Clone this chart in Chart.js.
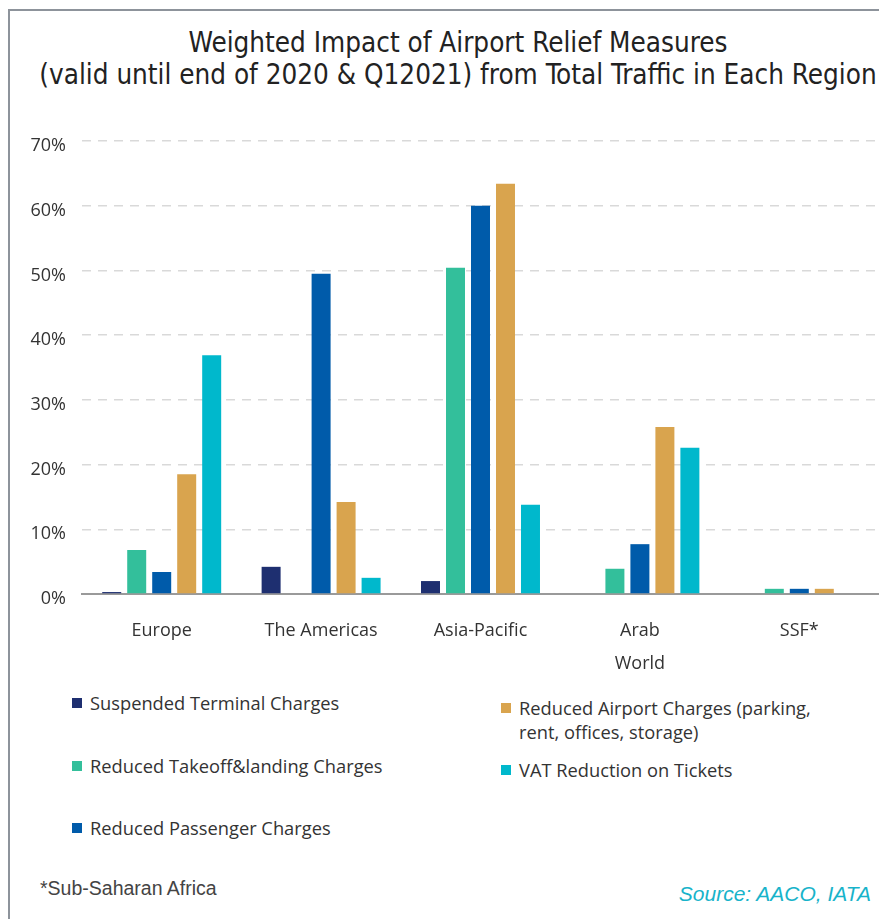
<!DOCTYPE html>
<html>
<head>
<meta charset="utf-8">
<script src="https://cdn.jsdelivr.net/npm/chart.js@4"></script>
<style>
  html, body { margin: 0; padding: 0; background: #fff; }
  body { width: 879px; height: 919px; position: relative; overflow: hidden; }
  #frame { position: absolute; left: 8px; top: 9px; width: 880px; height: 920px;
           border-top: 2px solid #8d939b; border-left: 2px solid #8d939b; }
  #title { position: absolute; left: 20px; width: 876px; top: 27px; text-align: center;
           font-family: "Liberation Sans Narrow", "DejaVu Sans Condensed", sans-serif;
           font-size: 27.6px; line-height: 32px; color: #222; white-space: nowrap; }
  #chartbox { position: absolute; left: 0; top: 0; width: 879px; height: 690px; }
  .leg { position: absolute; font-family: "Open Sans", sans-serif; font-size: 18.3px; color: #333;
         line-height: 24px; }
  .leg .sw { position: absolute; left: -18px; top: 7px; width: 10px; height: 10px; }
  #foot { position: absolute; left: 40px; top: 877px; font-family: "Liberation Sans Narrow", sans-serif;
          font-size: 19.5px; color: #444; }
  #source { position: absolute; right: 8px; top: 882px; font-family: "Liberation Sans Narrow", sans-serif;
            font-style: italic; font-size: 21px; color: #18b3ca; }
</style>
</head>
<body>
<div id="frame"></div>
<div id="title"></div>
<div id="chartbox"><canvas id="c"></canvas></div>
<div id="legend"></div>
<div id="foot"></div>
<div id="source"></div>
<script>
const titleLines = ["Weighted Impact of Airport Relief Measures", "(valid until end of 2020 & Q12021) from Total Traffic in Each Region"];
const categories = [["Europe"], ["The Americas"], ["Asia-Pacific"], ["Arab", "World"], ["SSF*"]];
const seriesNames = ["Suspended Terminal Charges", "Reduced Takeoff&landing Charges", "Reduced Passenger Charges", "Reduced Airport Charges (parking, rent, offices, storage)", "VAT Reduction on Tickets"];
const suspended = [0.3, 4.2, 2.0, 0, 0];
const takeoff = [6.8, 0, 50.4, 3.9, 0.8];
const passenger = [3.4, 49.5, 60.0, 7.7, 0.8];
const airport = [18.5, 14.2, 63.4, 25.8, 0.8];
const vat = [36.9, 2.5, 13.8, 22.6, 0];
const yTicks = [0, 10, 20, 30, 40, 50, 60, 70];
const footnote = "*Sub-Saharan Africa";
const sourceText = "Source: AACO, IATA";

const colors = ["#1e2f70", "#33bf9b", "#005baa", "#d9a44e", "#00b8cc"];
const seriesData = [suspended, takeoff, passenger, airport, vat];

document.getElementById('title').innerHTML = titleLines.map(t => '<div>' + t.replace(/&/g, '&amp;') + '</div>').join('');
document.getElementById('foot').textContent = footnote;
document.getElementById('source').textContent = sourceText;

// legend layout (two columns)
const legendPos = [
  {left: 90, top: 691, width: 340},
  {left: 90, top: 754, width: 340},
  {left: 90, top: 816, width: 340},
  {left: 519, top: 696, width: 306},
  {left: 519, top: 758, width: 306}
];
const legendEl = document.getElementById('legend');
seriesNames.forEach((n, i) => {
  const d = document.createElement('div');
  d.className = 'leg';
  const p = legendPos[i];
  d.style.left = p.left + 'px'; d.style.top = p.top + 'px'; d.style.width = p.width + 'px';
  const sw = document.createElement('span');
  sw.className = 'sw'; sw.style.background = colors[i];
  d.appendChild(sw);
  d.appendChild(document.createTextNode(n));
  legendEl.appendChild(d);
});

new Chart(document.getElementById('c'), {
  type: 'bar',
  data: {
    labels: categories,
    datasets: seriesNames.map((n, i) => ({
      label: n,
      data: seriesData[i],
      backgroundColor: colors[i],
      borderWidth: 0,
      categoryPercentage: 0.784,
      barPercentage: 0.76
    }))
  },
  options: {
    responsive: true,
    maintainAspectRatio: false,
    animation: false,
    layout: { padding: { top: 141, left: 0, right: 0, bottom: 0 } },
    plugins: { legend: { display: false }, title: { display: false }, tooltip: { enabled: false } },
    scales: {
      x: {
        grid: { display: false, drawTicks: false },
        border: { display: true, color: '#9a9a9a', width: 2 },
        ticks: { padding: 21, color: '#333', font: { family: 'Open Sans', size: 18, lineHeight: 1.8 }, maxRotation: 0, autoSkip: false },
        afterFit: s => { s.height = 96; }
      },
      y: {
        min: 0, max: 70,
        afterBuildTicks: s => { s.ticks = yTicks.map(v => ({ value: v })); },
        grid: { color: c => c.tick && c.tick.value === 0 ? 'rgba(0,0,0,0)' : '#d9d9d9', lineWidth: 1.5, drawTicks: false },
        border: { display: false, dash: [9, 7] },
        ticks: { padding: 16, labelOffset: 5, color: '#333', font: { family: 'Open Sans', size: 18 }, callback: v => v + '%' },
        afterFit: s => { s.width = 82; }
      }
    }
  }
});
</script>
</body>
</html>
